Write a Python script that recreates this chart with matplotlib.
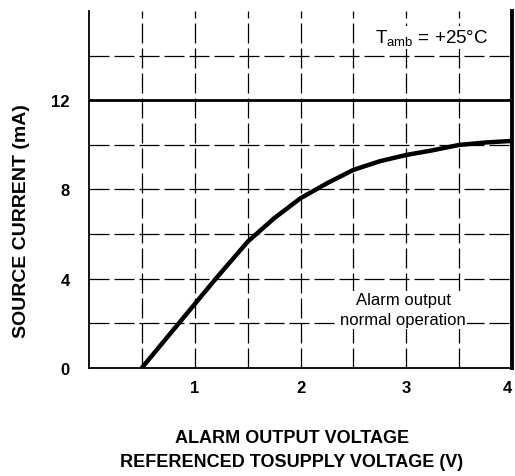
import numpy as np
import matplotlib
matplotlib.use("Agg")
import matplotlib.pyplot as plt

plt.rcParams["font.family"] = ["Liberation Sans", "DejaVu Sans"]
plt.rcParams["mathtext.fontset"] = "custom"
plt.rcParams["mathtext.rm"] = "Liberation Sans"

# curve
voltage = [0.5, 0.85, 1.2, 1.5, 1.75, 2.0, 2.25, 2.5, 2.75, 3.0, 3.25, 3.5, 3.75, 4.0]
current = [0.0, 2.0, 4.0, 5.65, 6.7, 7.6, 8.27, 8.87, 9.26, 9.54, 9.75, 9.99, 10.1, 10.17]

x_ticks = [1, 2, 3, 4]
y_ticks = [0, 4, 8, 12]

fig = plt.figure(figsize=(5.15, 4.77), dpi=100)
ax = fig.add_axes([0.173, 0.227, 0.821, 0.748])

ax.set_xlim(0, 4)
ax.set_ylim(0, 16)

# grid, dashed like the scan
for gx in np.arange(0.5, 4.0, 0.5):
    ax.axvline(gx, color="black", lw=0.9, ls=(0, (16, 4)))
for gy in np.arange(2, 16, 2):
    if gy == 12:
        ax.axhline(gy, color="black", lw=2.0)
    else:
        ax.axhline(gy, color="black", lw=0.9, ls=(0, (16, 4)))

ax.plot(voltage, current, color="black", lw=3.2,
        solid_capstyle="round", solid_joinstyle="round")

ax.spines["top"].set_visible(False)
ax.spines["left"].set_linewidth(1.3)
ax.spines["bottom"].set_linewidth(1.3)
ax.spines["right"].set_linewidth(2.8)

ax.set_xticks(x_ticks)
ax.set_yticks(y_ticks)
ax.tick_params(axis="y", length=0, labelsize=12, pad=14)
ax.tick_params(axis="x", length=0, labelsize=12, pad=9)
for lab in ax.get_xticklabels() + ax.get_yticklabels():
    lab.set_fontweight("bold")
ax.get_xticklabels()[-1].set_horizontalalignment("right")

ax.set_ylabel("SOURCE CURRENT (mA)", fontsize=14, fontweight="bold")
ax.yaxis.set_label_coords(-0.14, 0.415)
ax.set_xlabel("ALARM OUTPUT VOLTAGE\nREFERENCED TOSUPPLY VOLTAGE (V)",
              fontsize=13, fontweight="bold", linespacing=1.5)
ax.xaxis.set_label_coords(0.48, -0.172)

ax.text(3.24, 14.8, "T$_{\\mathrm{amb}}$ = +25°C", fontsize=13.5,
        ha="center", va="center",
        bbox=dict(facecolor="white", edgecolor="none", pad=1))
ax.text(2.97, 2.6, "Alarm output\nnormal operation", fontsize=12,
        ha="center", va="center", linespacing=1.45,
        bbox=dict(facecolor="white", edgecolor="none", pad=1))

fig.savefig("out.png", dpi=100)
